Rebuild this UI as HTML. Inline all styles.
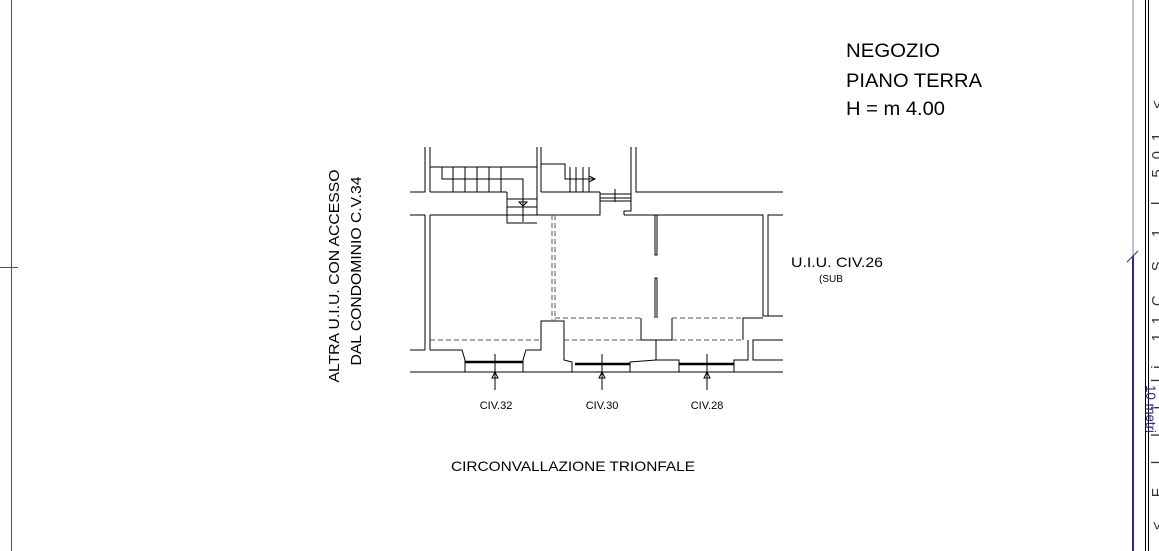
<!DOCTYPE html>
<html><head><style>
html,body{margin:0;padding:0;background:#fff;overflow:hidden}
svg{display:block}
text{font-family:"Liberation Sans",sans-serif}
</style></head><body>
<svg width="1159" height="551" viewBox="0 0 1159 551" xmlns="http://www.w3.org/2000/svg">
<line x1="11.5" y1="0" x2="11.5" y2="551" stroke="#4a4a9a" stroke-width="1"/>
<line x1="0" y1="267.5" x2="18" y2="267.5" stroke="#4a4a9a" stroke-width="1"/>
<line x1="1133" y1="0" x2="1133" y2="256" stroke="#8080b0" stroke-width="1"/>
<line x1="1133" y1="256" x2="1133" y2="551" stroke="#2a2a8a" stroke-width="2"/>
<line x1="1127" y1="262" x2="1138" y2="251" stroke="#2a2a8a" stroke-width="1"/>
<line x1="1145.5" y1="0" x2="1145.5" y2="551" stroke="#000" stroke-width="1"/>
<line x1="1148.5" y1="0" x2="1148.5" y2="551" stroke="#000" stroke-width="1"/>
<text transform="translate(1146,385) rotate(90)" font-size="14" fill="#2a2a8a" font-family="Liberation Serif" textLength="48" lengthAdjust="spacingAndGlyphs">10 metri</text>
<text transform="translate(1162,530) rotate(-90)" font-size="15" fill="#333" textLength="430">&lt;  F   l    l    i     li    11C    S   1   l        501 &lt;</text>

<text x="846" y="57" font-size="19" textLength="94" lengthAdjust="spacingAndGlyphs">NEGOZIO</text>
<text x="846" y="87" font-size="19" textLength="136" lengthAdjust="spacingAndGlyphs">PIANO TERRA</text>
<text x="846" y="115" font-size="19" textLength="99" lengthAdjust="spacingAndGlyphs">H = m 4.00</text>
<text transform="translate(339,276) rotate(-90)" font-size="15" text-anchor="middle" textLength="213" lengthAdjust="spacingAndGlyphs">ALTRA U.I.U. CON ACCESSO</text>
<text transform="translate(361,271) rotate(-90)" font-size="15" text-anchor="middle" textLength="189" lengthAdjust="spacingAndGlyphs">DAL CONDOMINIO C.V.34</text>
<text x="791" y="267" font-size="14" textLength="92" lengthAdjust="spacingAndGlyphs">U.I.U. CIV.26</text>
<text x="819" y="282" font-size="10">(SUB</text>
<text x="496" y="409" font-size="11" text-anchor="middle">CIV.32</text>
<text x="602" y="409" font-size="11" text-anchor="middle">CIV.30</text>
<text x="707" y="409" font-size="11" text-anchor="middle">CIV.28</text>
<text x="451" y="471" font-size="14" textLength="244" lengthAdjust="spacingAndGlyphs">CIRCONVALLAZIONE TRIONFALE</text>

<g fill="none" stroke="#000" stroke-width="1">
<polyline points="425,147 425,192 410,192"/>
<polyline points="430,147 430,192"/>
<polyline points="537,147 537,215"/>
<polyline points="541,147 541,192"/>
<polyline points="631,147 631,211 624,211 624,215"/>
<polyline points="636,147 636,192 783,192"/>
<polyline points="410,215 425,215"/>
<polyline points="430,215 600,215 600,192"/>
<polyline points="624,215 763,215 763,316 783,316"/>
<polyline points="783,215 768,215 768,316"/>
<polyline points="430,167 537,167"/>
<polyline points="442,167 442,179 523,179 523,222"/>
<line x1="430" y1="192" x2="507" y2="192"/>
<polyline points="507,192 507,223 537,223"/>
<line x1="507" y1="199" x2="537" y2="199"/>
<line x1="507" y1="207" x2="537" y2="207"/>
<line x1="453" y1="167" x2="453" y2="192"/>
<line x1="465" y1="167" x2="465" y2="192"/>
<line x1="477" y1="167" x2="477" y2="192"/>
<line x1="489" y1="167" x2="489" y2="192"/>
<line x1="501" y1="167" x2="501" y2="192"/>
<path d="M519,202 L523,206 L527,202 Z"/>
<polyline points="541,164 565,164 565,179 595,179"/>
<line x1="541" y1="192" x2="600" y2="192"/>
<line x1="570" y1="167" x2="570" y2="192"/>
<line x1="576" y1="167" x2="576" y2="192"/>
<line x1="583" y1="167" x2="583" y2="192"/>
<line x1="589" y1="167" x2="589" y2="192"/>
<path d="M589,176 L595,179 L589,182 Z"/>
<line x1="600" y1="194" x2="631" y2="194"/>
<line x1="600" y1="198" x2="631" y2="198"/>
<line x1="600" y1="201" x2="631" y2="201"/>
<line x1="615" y1="189" x2="615" y2="202"/>
<line x1="425" y1="215" x2="425" y2="350"/>
<line x1="430" y1="215" x2="430" y2="350"/>
<line x1="410" y1="350" x2="425" y2="350"/>
<polyline points="430,350 462,350 465,360 465,372"/>
<polyline points="523,372 523,360 526,350 541,350 541,321 564,321 564,360 572,362 572,372"/>
<polyline points="655,215 655,255 657,255 657,215"/>
<polyline points="655,318 655,278 657,278 657,318"/>
<polyline points="641,318 641,340 672,340 672,318"/>
<polyline points="656,340 656,360 679,360 679,372"/>
<polyline points="630,372 630,362 656,360"/>
<polyline points="743,340 743,318 763,318"/>
<polyline points="748,340 748,360 734,360 734,372"/>
<polyline points="783,340 753,340 753,360 783,360"/>
<line x1="410" y1="372" x2="783" y2="372"/>
</g>
<g stroke="#000" stroke-width="2.5">
<line x1="465" y1="362" x2="523" y2="362"/>
<line x1="575" y1="364" x2="630" y2="364"/>
<line x1="679" y1="364" x2="734" y2="364"/>
</g>
<g stroke="#555" stroke-width="1" stroke-dasharray="5,3" fill="none">
<line x1="430" y1="340" x2="541" y2="340"/>
<line x1="564" y1="340" x2="641" y2="340"/>
<line x1="672" y1="340" x2="743" y2="340"/>
<line x1="555" y1="318" x2="641" y2="318"/>
<line x1="672" y1="318" x2="743" y2="318"/>
<line x1="552" y1="215" x2="552" y2="321"/>
<line x1="555" y1="215" x2="555" y2="321"/>
</g>
<g stroke="#000" stroke-width="1" fill="none">
<line x1="495" y1="354" x2="495" y2="390"/><path d="M492,378 L495,372 L498,378 Z"/>
<line x1="602" y1="354" x2="602" y2="390"/><path d="M599,378 L602,372 L605,378 Z"/>
<line x1="707" y1="354" x2="707" y2="390"/><path d="M704,378 L707,372 L710,378 Z"/>
</g>
</svg>
</body></html>
